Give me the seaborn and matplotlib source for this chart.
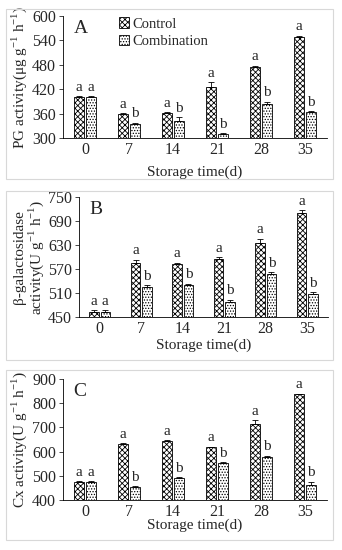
import matplotlib
matplotlib.use("Agg")
import matplotlib.pyplot as plt
from matplotlib.patches import Rectangle
import seaborn as sns
import pandas as pd

days = ["0", "7", "14", "21", "28", "35"]
groups = ["Control", "Combination"]

pg_control = [400, 358, 361, 425, 475, 549]
pg_comb = [400, 335, 343, 310, 383, 364]
pg_control_err = [3, 3, 3, 12, 3, 2]
pg_comb_err = [3, 3, 8, 2, 6, 2]
pg_letters = [["a", "a", "a", "a", "a", "a"], ["a", "b", "b", "b", "b", "b"]]

bg_control = [463, 585, 582, 596, 636, 710]
bg_comb = [463, 524, 531, 488, 557, 508]
bg_control_err = [4, 8, 4, 4, 10, 7]
bg_comb_err = [4, 5, 2, 5, 5, 4]
bg_letters = [["a", "a", "a", "a", "a", "a"], ["a", "b", "b", "b", "b", "b"]]

cx_control = [474, 631, 645, 618, 714, 836]
cx_comb = [474, 453, 491, 554, 579, 461]
cx_control_err = [3, 3, 3, 3, 15, 3]
cx_comb_err = [3, 3, 3, 3, 4, 15]
cx_letters = [["a", "a", "a", "a", "a", "a"], ["a", "b", "b", "b", "b", "b"]]

# (label, data..., ylabel, ylim, yticks, axes rect in px [left, top, right, bottom], ylabel x, xlabel pad)
panels = [
    ("A", pg_control, pg_comb, pg_control_err, pg_comb_err, pg_letters,
     "PG activity(μg g$^{-1}$ h$^{-1}$)", (300, 600), [300, 360, 420, 480, 540, 600],
     (63, 16, 327, 138), -0.13, 5.5),
    ("B", bg_control, bg_comb, bg_control_err, bg_comb_err, bg_letters,
     "β-galactosidase\nactivity(U g$^{-1}$ h$^{-1}$)", (450, 750), [450, 510, 570, 630, 690, 750],
     (79, 197, 328, 317), -0.133, 1),
    ("C", cx_control, cx_comb, cx_control_err, cx_comb_err, cx_letters,
     "Cx activity(U g$^{-1}$ h$^{-1}$)", (400, 900), [400, 500, 600, 700, 800, 900],
     (63, 379, 327, 500), -0.13, -1),
]

sns.set_theme(style="white")
plt.rcParams["font.family"] = ["Liberation Serif", "DejaVu Serif"]
plt.rcParams["mathtext.fontset"] = "custom"
plt.rcParams["mathtext.rm"] = "Liberation Serif"
plt.rcParams["hatch.color"] = "#444444"
plt.rcParams["hatch.linewidth"] = 0.6

W, H = 342, 550
fig = plt.figure(figsize=(W / 100, H / 100), dpi=100)

# light frames around each panel
for y0, y1 in [(9, 179), (191, 360), (370, 540)]:
    fig.patches.append(Rectangle((6 / W, 1 - y1 / H), 327 / W, (y1 - y0) / H,
                                 transform=fig.transFigure, fill=False,
                                 edgecolor="#d8d8d8", linewidth=0.8))

hatches = ["xxxxxx", "......"]

for (label, ctrl, comb, ctrl_err, comb_err, letters, ylabel, ylim, yticks,
     rect, ylab_x, xlab_pad) in panels:
    l, t, r, b = rect
    ax = fig.add_axes([l / W, 1 - b / H, (r - l) / W, (b - t) / H])
    df = pd.DataFrame({
        "day": days * 2,
        "group": [groups[0]] * 6 + [groups[1]] * 6,
        "value": ctrl + comb,
    })
    sns.barplot(data=df, x="day", y="value", hue="group", order=days, hue_order=groups,
                errorbar=None, palette=["white", "white"], edgecolor="black",
                linewidth=0.6, width=0.54, gap=0.15, ax=ax)
    errs = [ctrl_err, comb_err]
    bar_conts = list(ax.containers)
    for gi, cont in enumerate(bar_conts):
        for bi, bar in enumerate(cont):
            bar.set_hatch(hatches[gi])
            x = bar.get_x() + bar.get_width() / 2
            top = bar.get_height()
            ax.errorbar(x, top, yerr=[[0], [errs[gi][bi]]], fmt="none",
                        ecolor="black", elinewidth=0.6, capsize=2, capthick=0.6)
            ax.text(x, top + errs[gi][bi] + (ylim[1] - ylim[0]) * 0.02, letters[gi][bi],
                    ha="center", va="bottom", fontsize=11)
    ax.set_ylim(*ylim)
    ax.set_yticks(yticks)
    ax.set_xlim(-0.5, 5.5)
    ax.set_xticks(range(6))
    ax.set_xticklabels(days)
    ax.set_xticks([i + 0.5 for i in range(-1, 6)], minor=True)
    ax.tick_params(axis="x", which="major", length=0, labelsize=11.5, pad=3)
    ax.tick_params(axis="x", which="minor", length=3, width=0.6, direction="out")
    ax.tick_params(axis="y", length=3, width=0.6, direction="out", labelsize=11.5, pad=2)
    ax.tick_params(left=True, bottom=True)
    for s in ["top", "right"]:
        ax.spines[s].set_visible(False)
    for s in ["left", "bottom"]:
        ax.spines[s].set_color("black")
        ax.spines[s].set_linewidth(0.6)
    ax.set_xlabel("Storage time(d)", fontsize=11, labelpad=xlab_pad)
    ax.set_ylabel(ylabel, fontsize=11, linespacing=1.0)
    ax.yaxis.set_label_coords(ylab_x, 0.5)
    ax.text(0.04, 0.97, label, transform=ax.transAxes, fontsize=14, va="top", ha="left")
    old = ax.get_legend()
    if old is not None:
        old.remove()
    if label == "A":
        handles = [Rectangle((0, 0), 1, 1, facecolor="white", edgecolor="black",
                             linewidth=0.6, hatch=h) for h in hatches]
        ax.legend(handles, groups, loc="upper left", bbox_to_anchor=(0.18, 1.06), frameon=False,
                  fontsize=10.5, handlelength=0.7, handleheight=0.7, handletextpad=0.2,
                  labelspacing=0.3, borderpad=0.1)

fig.savefig("out.png", dpi=100)
